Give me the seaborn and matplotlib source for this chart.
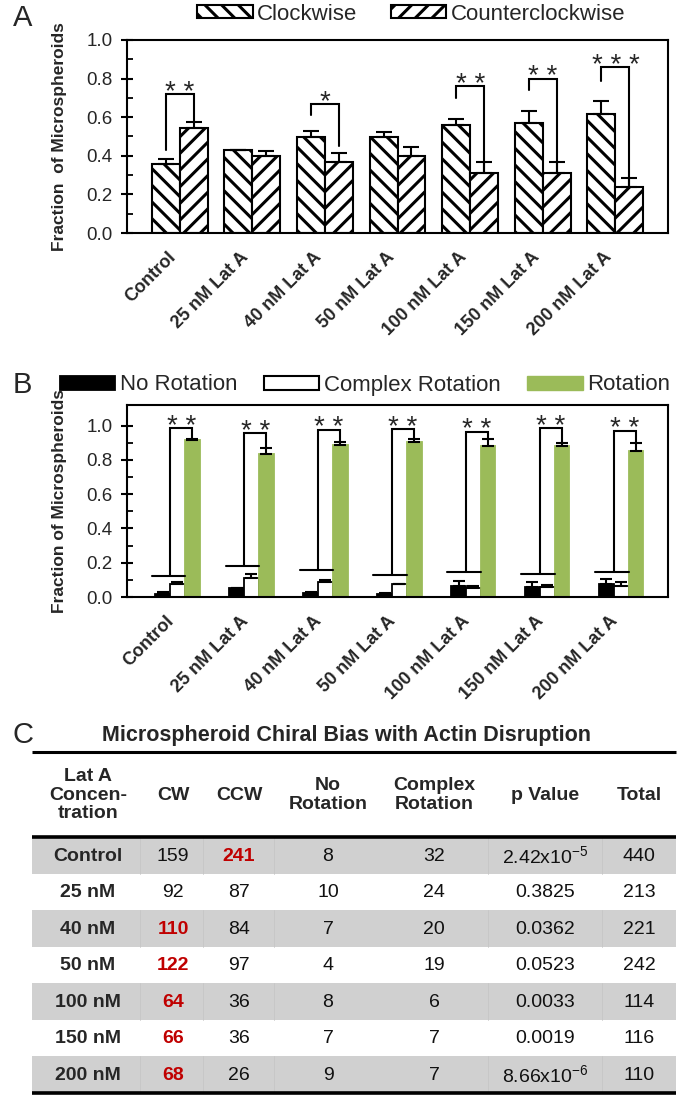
import numpy as np
import pandas as pd
import matplotlib
matplotlib.use("Agg")
import matplotlib.pyplot as plt
from matplotlib.patches import Patch
import seaborn as sns

# ---------------- data ----------------
categories = ["Control", "25 nM Lat A", "40 nM Lat A", "50 nM Lat A",
              "100 nM Lat A", "150 nM Lat A", "200 nM Lat A"]

# Panel A
cw_frac = [0.36, 0.43, 0.50, 0.50, 0.56, 0.57, 0.615]
ccw_frac = [0.545, 0.40, 0.37, 0.40, 0.31, 0.31, 0.24]
cw_err = [0.025, 0.0, 0.03, 0.025, 0.03, 0.06, 0.07]
ccw_err = [0.03, 0.025, 0.045, 0.045, 0.06, 0.06, 0.045]
a_sig_idx = [0, 2, 4, 5, 6]
a_sig_label = ["**", "*", "**", "**", "***"]
a_bracket_top = [0.72, 0.67, 0.76, 0.80, 0.86]
a_bracket_left = [0.43, 0.61, 0.70, 0.74, 0.79]
a_bracket_right = [0.575, 0.45, 0.31, 0.31, 0.24]

# Panel B
none_frac = [0.02, 0.05, 0.025, 0.02, 0.065, 0.06, 0.075]
none_err = [0.01, 0.005, 0.005, 0.005, 0.03, 0.025, 0.03]
complex_frac = [0.075, 0.11, 0.09, 0.075, 0.05, 0.06, 0.065]
complex_err = [0.01, 0.025, 0.01, 0.003, 0.015, 0.01, 0.02]
rot_frac = [0.915, 0.835, 0.885, 0.905, 0.88, 0.88, 0.85]
rot_err = [0.005, 0.035, 0.02, 0.015, 0.04, 0.02, 0.05]
b_low = [0.12, 0.18, 0.155, 0.13, 0.145, 0.135, 0.145]
b_top = [0.985, 0.955, 0.975, 0.98, 0.965, 0.985, 0.97]
b_right = [0.93, 0.875, 0.905, 0.925, 0.925, 0.905, 0.905]
b_sig_label = ["**"] * 7

# Panel C (table)
table_title = "Microspheroid Chiral Bias with Actin Disruption"
conc = ["Control", "25 nM", "40 nM", "50 nM", "100 nM", "150 nM", "200 nM"]
cw_n = [159, 92, 110, 122, 64, 66, 68]
ccw_n = [241, 87, 84, 97, 36, 36, 26]
norot_n = [8, 10, 7, 4, 8, 7, 9]
complex_n = [32, 24, 20, 19, 6, 7, 7]
p_vals = [r"2.42x10$^{-5}$", "0.3825", "0.0362", "0.0523", "0.0033", "0.0019",
          r"8.66x10$^{-6}$"]
total_n = [440, 213, 221, 242, 114, 116, 110]
cw_red = [False, False, True, True, True, True, True]
ccw_red = [True, False, False, False, False, False, False]

# ---------------- style ----------------
sns.set_theme(style="white")
plt.rcParams["font.family"] = ["Liberation Sans", "DejaVu Sans"]
plt.rcParams["mathtext.default"] = "regular"
plt.rcParams["hatch.linewidth"] = 2.2
plt.rcParams["hatch.color"] = "black"

W, H = 677, 1097
fig = plt.figure(figsize=(W / 100, H / 100), dpi=100)


def fx(px):
    return px / W


def fy(py):
    return 1 - py / H


GREEN = "#9BBB59"
RED = "#C00000"


def style_axis(ax, ylim, label, labelpad):
    ax.set_ylim(*ylim)
    ax.set_yticks(np.arange(0, 1.01, 0.2))
    ax.set_yticks(np.arange(0.1, 1.0, 0.2), minor=True)
    ax.set_yticklabels([f"{v:.1f}" for v in np.arange(0, 1.01, 0.2)])
    ax.tick_params(axis="y", which="major", direction="inout", length=9, width=1.5,
                   labelsize=13.5, pad=6, left=True, color="black")
    ax.tick_params(axis="y", which="minor", direction="in", length=4, width=1.3,
                   left=True, color="black")
    ax.tick_params(axis="x", length=0, pad=11)
    ax.set_xticks(range(len(categories)))
    ax.set_xticklabels(categories, rotation=45, ha="right", fontweight="bold",
                       fontsize=13)
    ax.set_xlabel("")
    ax.set_ylabel(label, fontweight="bold", fontsize=12.5, labelpad=labelpad)
    for s in ax.spines.values():
        s.set_visible(True)
        s.set_color("black")
        s.set_linewidth(1.5)


def stars(ax, x, y, lab):
    ax.annotate(" ".join(lab), xy=(x, y), xytext=(0, -4), textcoords="offset points",
                ha="center", va="baseline", fontsize=20)


# ---------------- Panel A ----------------
axA = fig.add_axes([fx(127), fy(233), fx(668) - fx(127), (233 - 40) / H])
dfA = pd.DataFrame({
    "Condition": categories * 2,
    "Direction": ["Clockwise"] * 7 + ["Counterclockwise"] * 7,
    "Fraction": cw_frac + ccw_frac,
})
sns.barplot(data=dfA, x="Condition", y="Fraction", hue="Direction",
            palette={"Clockwise": "white", "Counterclockwise": "white"},
            saturation=1, width=0.77, errorbar=None, legend=False,
            edgecolor="black", linewidth=1.5, ax=axA)
hatchesA = ["\\\\", "//"]
centersA = []
for cont, h, err in zip(axA.containers, hatchesA, [cw_err, ccw_err]):
    xs, ys = [], []
    for bar in cont:
        bar.set_hatch(h)
        xs.append(bar.get_x() + bar.get_width() / 2)
        ys.append(bar.get_height())
    centersA.append(xs)
    axA.errorbar(xs, ys, yerr=[np.zeros(len(err)), err], fmt="none", ecolor="black",
                 elinewidth=1.5, capsize=6, capthick=1.5, zorder=3)
for k, i in enumerate(a_sig_idx):
    xl, xr = centersA[0][i], centersA[1][i]
    axA.plot([xl, xl, xr, xr],
             [a_bracket_left[k], a_bracket_top[k], a_bracket_top[k], a_bracket_right[k]],
             color="black", lw=1.5, solid_joinstyle="miter", zorder=4)
    stars(axA, (xl + xr) / 2, a_bracket_top[k], a_sig_label[k])
style_axis(axA, (0, 1.0), "Fraction  of Microspheroids", 14)

legA = [Patch(facecolor="white", edgecolor="black", hatch="\\\\", lw=1.5),
        Patch(facecolor="white", edgecolor="black", hatch="//", lw=1.5)]
fig.legend(legA, ["Clockwise", "Counterclockwise"], loc="center",
           bbox_to_anchor=(fx(411), fy(14)), ncol=2, frameon=False, fontsize=16,
           handlelength=2.5, handleheight=0.55, handletextpad=0.2, columnspacing=1.5,
           borderaxespad=0, borderpad=0)
fig.text(fx(13), fy(18), "A", fontsize=21, va="center", ha="left")

# ---------------- Panel B ----------------
axB = fig.add_axes([fx(127), fy(597), fx(668) - fx(127), (597 - 405) / H])
rot_levels = ["No Rotation", "Complex Rotation", "Rotation"]
dfB = pd.DataFrame({
    "Condition": categories * 3,
    "Type": [rot_levels[0]] * 7 + [rot_levels[1]] * 7 + [rot_levels[2]] * 7,
    "Fraction": none_frac + complex_frac + rot_frac,
})
sns.barplot(data=dfB, x="Condition", y="Fraction", hue="Type",
            palette={"No Rotation": "black", "Complex Rotation": "white",
                     "Rotation": GREEN},
            saturation=1, width=0.6, errorbar=None, legend=False,
            edgecolor="black", linewidth=1.3, ax=axB)
contsB = axB.containers
for bar in contsB[2]:
    bar.set_edgecolor(GREEN)
for cont, err in zip(contsB, [none_err, complex_err, rot_err]):
    xs = [b.get_x() + b.get_width() / 2 for b in cont]
    ys = [b.get_height() for b in cont]
    axB.errorbar(xs, ys, yerr=[np.zeros(len(err)), err], fmt="none", ecolor="black",
                 elinewidth=1.5, capsize=4.5, capthick=1.5, zorder=3)
for i in range(len(categories)):
    bk, wh, gr = contsB[0][i], contsB[1][i], contsB[2][i]
    xmid = wh.get_x()
    xg = gr.get_x() + gr.get_width() / 2
    axB.plot([bk.get_x() - 0.05, wh.get_x() + wh.get_width()], [b_low[i], b_low[i]],
             color="black", lw=1.5, zorder=4)
    axB.plot([xmid, xmid, xg, xg], [b_low[i], b_top[i], b_top[i], b_right[i]],
             color="black", lw=1.5, solid_joinstyle="miter", zorder=4)
    stars(axB, (xmid + xg) / 2, b_top[i], b_sig_label[i])
style_axis(axB, (0, 1.12), "Fraction of Microspheroids", 14)

legB = [Patch(facecolor="black", edgecolor="black", lw=1.3),
        Patch(facecolor="white", edgecolor="black", lw=1.5),
        Patch(facecolor=GREEN, edgecolor=GREEN)]
fig.legend(legB, rot_levels, loc="center", bbox_to_anchor=(fx(365), fy(385)), ncol=3,
           frameon=False, fontsize=16, handlelength=2.5, handleheight=0.6,
           handletextpad=0.2, columnspacing=1.2, borderaxespad=0, borderpad=0)
fig.text(fx(13), fy(385), "B", fontsize=21, va="center", ha="left")

# ---------------- Panel C (table) ----------------
axC = fig.add_axes([0, 0, 1, (H - 700) / H])
axC.set_xlim(0, W)
axC.set_ylim(H, 700)
axC.axis("off")
fig.text(fx(13), fy(735), "C", fontsize=21, va="center", ha="left")
axC.text(347, 735, table_title, ha="center", va="center", fontsize=15.5,
         fontweight="bold")
x0, x1 = 32, 676
axC.plot([x0, x1], [752, 752], color="black", lw=2.2, solid_capstyle="butt")
col_x = [88, 173, 239, 328, 434, 545, 639]
hdr = ["Lat A\nConcen-\ntration", "CW", "CCW", "No\nRotation", "Complex\nRotation",
       "p Value", "Total"]
for cx, t in zip(col_x, hdr):
    axC.text(cx, 795, t, ha="center", va="center", fontsize=14, fontweight="bold",
             linespacing=1.15)
row_top = 837
row_h = 36.5
sep_x = [140, 203, 274, 488, 602]
for i in range(len(conc)):
    y0 = row_top + i * row_h
    yc = y0 + row_h / 2 + 1
    if i % 2 == 0:
        axC.fill_between([x0, x1], [y0, y0], [y0 + row_h, y0 + row_h],
                         color="#D0D0D0", lw=0, zorder=0)
        for sx in sep_x:
            axC.plot([sx, sx], [y0, y0 + row_h], color="#C6C6C6", lw=0.6, zorder=0.5)
    axC.text(col_x[0], yc, conc[i], ha="center", va="center", fontsize=14,
             fontweight="bold")
    axC.text(col_x[1], yc, str(cw_n[i]), ha="center", va="center", fontsize=14,
             color=RED if cw_red[i] else "#111111",
             fontweight="bold" if cw_red[i] else "normal")
    axC.text(col_x[2], yc, str(ccw_n[i]), ha="center", va="center", fontsize=14,
             color=RED if ccw_red[i] else "#111111",
             fontweight="bold" if ccw_red[i] else "normal")
    axC.text(col_x[3], yc, str(norot_n[i]), ha="center", va="center", fontsize=14,
             color="#111111")
    axC.text(col_x[4], yc, str(complex_n[i]), ha="center", va="center", fontsize=14,
             color="#111111")
    axC.text(col_x[5], yc, p_vals[i], ha="center", va="center", fontsize=14,
             color="#111111")
    axC.text(col_x[6], yc, str(total_n[i]), ha="center", va="center", fontsize=14,
             color="#111111")
axC.plot([x0, x1], [row_top, row_top], color="black", lw=2.6, solid_capstyle="butt",
         zorder=3)
axC.plot([x0, x1], [row_top + 7 * row_h, row_top + 7 * row_h], color="black", lw=2.6,
         solid_capstyle="butt", zorder=3)

fig.savefig("out.png", dpi=100)
